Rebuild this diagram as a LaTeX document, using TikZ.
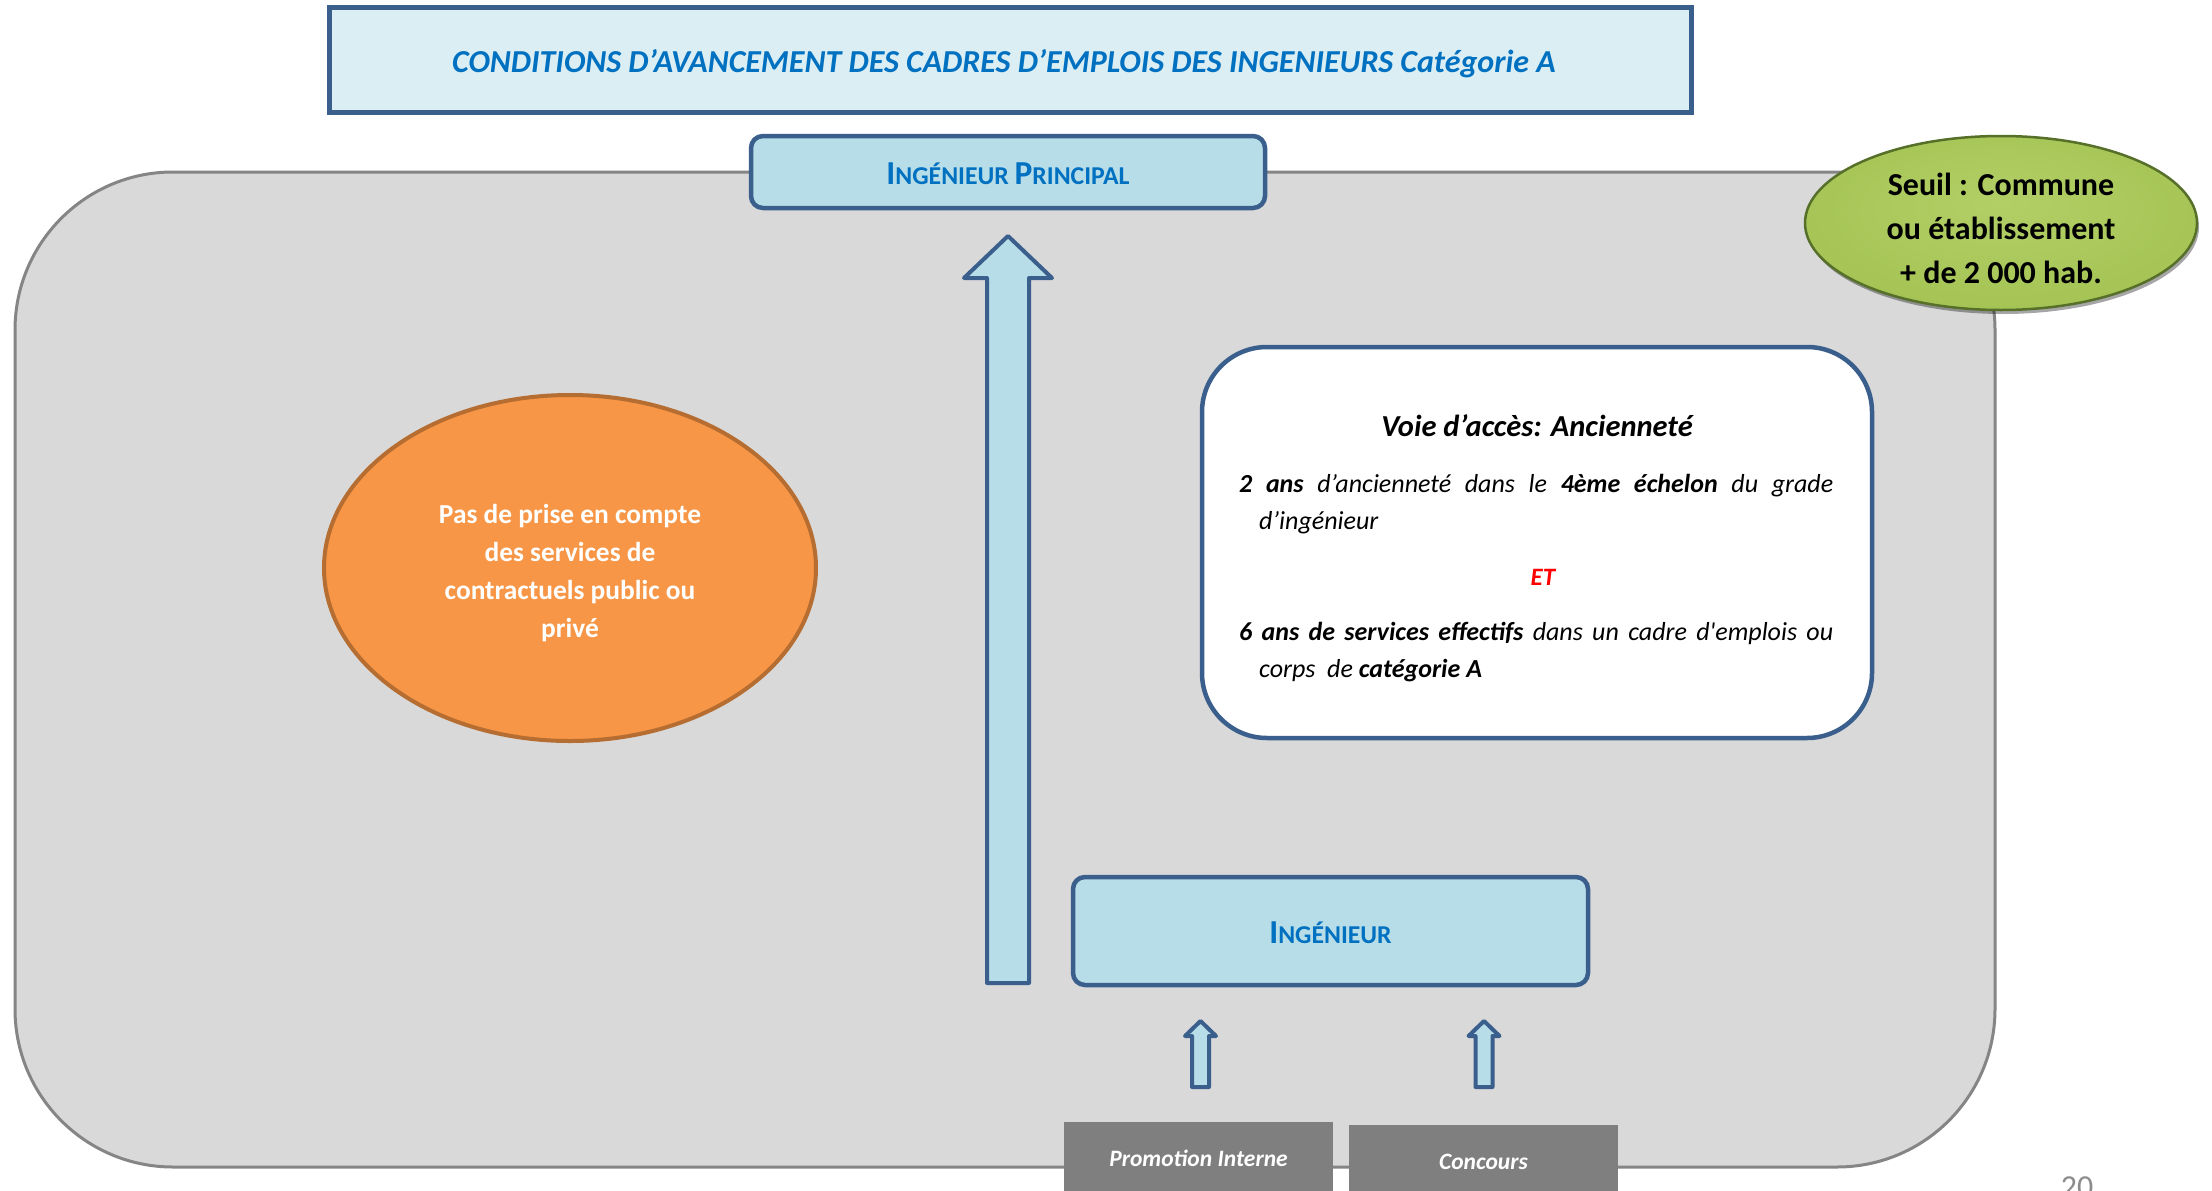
\documentclass[tikz,border=0pt]{standalone}
\usepackage{fontspec}
\setmainfont{Carlito}
\usetikzlibrary{shapes.geometric,shadows}
\definecolor{panelgray}{HTML}{D9D9D9}
\definecolor{panelline}{HTML}{858585}
\definecolor{dkblue}{HTML}{3A5F8C}
\definecolor{titlefill}{HTML}{DAEEF3}
\definecolor{ltblue}{HTML}{B7DDE8}
\definecolor{txtblue}{HTML}{0070C0}
\definecolor{orangefill}{HTML}{F79646}
\definecolor{orangeline}{HTML}{B66D31}
\definecolor{boxgray}{HTML}{7F7F7F}
\definecolor{pagegray}{HTML}{8C8C8C}
\definecolor{greenc}{HTML}{B2CF66}
\definecolor{greenm}{HTML}{A4C353}
\definecolor{greene}{HTML}{7B9933}
\definecolor{greenline}{HTML}{56702A}
\pgfdeclareradialshading{greenball}{\pgfpoint{0bp}{6bp}}{color(0bp)=(greenc); color(30bp)=(greenm); color(44bp)=(greenm); color(50bp)=(greene)}
\newcommand{\myfs}[2]{\fontsize{#1}{#2}\selectfont}
\newcommand{\scword}[2]{{\myfs{33.5}{40}#1}{\myfs{25.7}{31}#2}}
\newcommand{\blockarrow}[7]{%
  \draw[#1] (#2-#6,#3) -- (#2-#6,#5) -- (#2-#7,#5) -- (#2,#4) -- (#2+#7,#5) -- (#2+#6,#5) -- (#2+#6,#3) -- cycle;}
\begin{document}
\begin{tikzpicture}[x=1pt,y=-1pt,
  panel/.style={draw=panelline, line width=3pt, fill=panelgray, rounded corners=158pt},
  titlebox/.style={draw=dkblue, line width=5pt, fill=titlefill, text=txtblue, font=\myfs{32}{38}\bfseries\itshape, text height=25pt, text depth=0pt},
  gradebox/.style={draw=dkblue, line width=4.5pt, fill=ltblue, rounded corners=12pt, text=txtblue, font=\myfs{25.7}{31}\bfseries, text height=24pt, text depth=0pt},
  infobox/.style={draw=dkblue, line width=4.5pt, fill=white, rounded corners=65pt},
  blockarr/.style={draw=dkblue, line width=4pt, fill=ltblue, line join=round},
  srcbox/.style={fill=boxgray, text=white, font=\myfs{23.5}{28}\bfseries\itshape, text height=16pt, text depth=0pt, minimum height=72pt, anchor=north},
  bodytxt/.style={font=\myfs{26}{31}\itshape, inner sep=0pt, anchor=base west},
]
\useasboundingbox (0,0) rectangle (2212,1191);
\fill[white] (0,0) rectangle (2212,1191);

\node[panel, minimum width=1980pt, minimum height=995pt] (panel) at (1005,669.5) {};

\node[titlebox, minimum width=1362pt, minimum height=105pt] (title) at (1010,59.5)
  {CONDITIONS D’AVANCEMENT DES CADRES D’EMPLOIS DES INGENIEURS Catégorie A\hspace*{12pt}};

\node[gradebox, minimum width=514pt, minimum height=72pt] (principal) at (1008,172)
  {\scword{I}{NGÉNIEUR} \scword{P}{RINCIPAL}};

\blockarrow{blockarr}{1008}{983}{236}{278}{21}{44}

\node[ellipse, draw=orangeline, line width=4pt, fill=orangefill, minimum width=492pt, minimum height=346pt] (contract) at (570,568) {};
\node[text=white, align=center, font=\myfs{27.4}{38}\bfseries, inner sep=0pt] (contracttxt) at (570,573)
  {Pas de prise en compte\\des services de\\contractuels public ou\\privé};

\node[ellipse, shade, shading=greenball, draw=greenline, line width=2.5pt,
  drop shadow={shadow xshift=2pt, shadow yshift=-4pt, fill=black, opacity=0.35},
  minimum width=392pt, minimum height=174pt] (seuil) at (2001,223) {};
\node[align=center, font=\myfs{32}{44}\bfseries, inner sep=0pt] (seuiltxt) at (2001,228)
  {Seuil : Commune\\ou établissement\\+ de 2 000 hab.};

\node[infobox, minimum width=670pt, minimum height=391pt] (voie) at (1537,542.5) {};
\node[font=\myfs{30.5}{36}\bfseries\itshape, anchor=base, inner sep=0pt] (voietitle) at (1537,436) {Voie d’accès: Ancienneté};
\node[bodytxt] (cond1a) at (1239,492) {\makebox[594pt][s]{\textbf{2 ans} d’ancienneté dans le \textbf{4ème échelon} du grade}};
\node[bodytxt] (cond1b) at (1259,529) {d’ingénieur};
\node[font=\myfs{25}{30}\bfseries\itshape, text=red, anchor=base, inner sep=0pt] (et) at (1543,585) {ET};
\node[bodytxt] (cond2a) at (1239,640) {\makebox[594pt][s]{\textbf{6 ans de services effectifs} dans un cadre d\textquotesingle emplois ou}};
\node[bodytxt] (cond2b) at (1259,677) {corps\ \ de \textbf{catégorie A}};

\node[gradebox, minimum width=515pt, minimum height=108pt] (ing) at (1330.5,931) {\scword{I}{NGÉNIEUR}};

\blockarrow{blockarr}{1200.5}{1087}{1021}{1036}{8.5}{15.5}
\blockarrow{blockarr}{1484}{1087}{1021}{1036}{8.5}{15.5}

\node[srcbox, minimum width=269pt] (promo) at (1198.5,1122) {Promotion Interne};
\node[srcbox, minimum width=269pt] (concours) at (1483.5,1125) {Concours};

\node[text=pagegray, font=\myfs{32}{38}, anchor=base, inner sep=0pt] (pagenum) at (2077,1197) {20};
\end{tikzpicture}
\end{document}
